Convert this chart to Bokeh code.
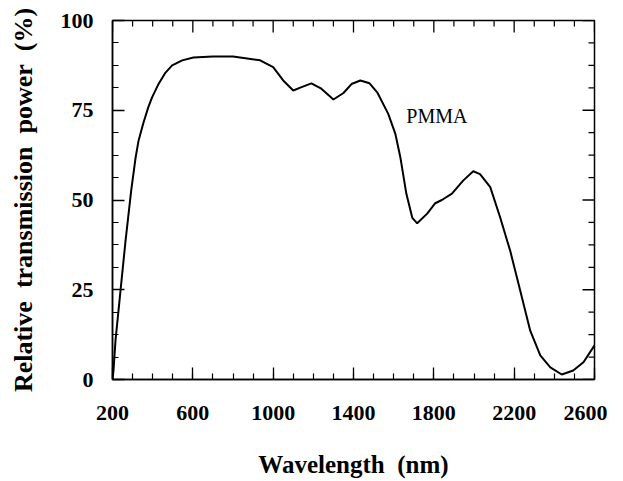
import math
from bokeh.plotting import figure
from bokeh.models import LinearAxis, FixedTicker, Range1d, Label
from bokeh.embed import file_html
from bokeh.resources import INLINE

# Data
wavelength = [200, 205, 215, 240, 265, 293, 315, 330, 353, 378, 397, 430, 464, 497,
              547, 603, 700, 800, 935, 1000, 1050, 1100, 1135, 1190, 1240, 1300,
              1350, 1390, 1434, 1480, 1518, 1573, 1608, 1633, 1663, 1693, 1717,
              1767, 1807, 1840, 1890, 1946, 1996, 2030, 2081, 2130, 2180, 2230,
              2280, 2330, 2380, 2437, 2494, 2545, 2600]
transmission = [0, 2.5, 10.9, 24.8, 38.7, 52.6, 61.8, 66.6, 71.3, 75.8, 78.6, 82.4,
                85.5, 87.5, 88.9, 89.7, 90, 90, 88.9, 87, 83.3, 80.5, 81.3, 82.5,
                81, 78, 79.8, 82.3, 83.3, 82.5, 80, 74, 68.5, 62, 51.8, 45, 43.5,
                46.2, 49.1, 50, 51.8, 55.4, 58, 57.2, 53.6, 45.2, 35.9, 24.8, 13.6,
                6.7, 3.4, 1.4, 2.5, 4.8, 9.5]

x_major = [200, 600, 1000, 1400, 1800, 2200, 2600]
x_minor = list(range(200, 2601, 100))
y_major = [0, 25, 50, 75, 100]
y_minor = [i * 6.25 for i in range(17)]

series_label = "PMMA"
label_pos = (1663, 73.5)

X_LO, X_HI = 200, 2600
Y_LO, Y_HI = 0, 100

FONT = "Liberation Serif"

p = figure(width=607, height=480, output_backend="svg", toolbar_location=None,
           x_range=Range1d(X_LO, X_HI), y_range=Range1d(Y_LO, Y_HI),
           x_axis_location=None, y_axis_location=None,
           min_border_left=112, min_border_right=13, min_border_top=20,
           min_border_bottom=101)
p.grid.visible = False
p.outline_line_color = "black"
p.outline_line_width = 1.5
p.background_fill_color = "white"
p.border_fill_color = "white"


def style(ax):
    ax.axis_line_color = "black"
    ax.axis_line_width = 1.5
    ax.major_tick_in = 12
    ax.major_tick_out = 0
    ax.minor_tick_in = 6
    ax.minor_tick_out = 0
    ax.major_tick_line_width = 1.3
    ax.minor_tick_line_width = 1.2
    ax.major_tick_line_color = "black"
    ax.minor_tick_line_color = "black"
    ax.major_label_text_font = FONT
    ax.major_label_text_font_style = "bold"
    ax.major_label_text_font_size = "22px"
    ax.major_label_text_color = "black"
    ax.axis_label_text_font = FONT
    ax.axis_label_text_font_style = "bold"
    ax.axis_label_text_color = "black"


xt = FixedTicker(ticks=x_major, minor_ticks=x_minor)
yt = FixedTicker(ticks=y_major, minor_ticks=y_minor)

xb = LinearAxis(ticker=xt)
style(xb)
xb.major_label_standoff = 26
xb.axis_label = "Wavelength\u00a0\u00a0(nm)"
xb.axis_label_text_font_size = "25px"
xb.axis_label_standoff = 28
p.add_layout(xb, "below")

yl = LinearAxis(ticker=yt)
style(yl)
yl.major_label_standoff = 19
yl.axis_label = "Relative\u00a0\u00a0transmission\u00a0\u00a0power\u00a0\u00a0(%)"
yl.axis_label_text_font_size = "26px"
yl.axis_label_standoff = 20
p.add_layout(yl, "left")

# Mirrored inward ticks on top and right edges (no labels)
minor_x_only = [v for v in x_minor if v not in x_major]
minor_y_only = [v for v in y_minor if v not in y_major]
p.ray(x=x_major, y=[Y_HI] * len(x_major), length=12, length_units="screen",
      angle=-math.pi / 2, line_color="black", line_width=1.3)
p.ray(x=minor_x_only, y=[Y_HI] * len(minor_x_only), length=6, length_units="screen",
      angle=-math.pi / 2, line_color="black", line_width=1.2)
p.ray(x=[X_HI] * len(y_major), y=y_major, length=12, length_units="screen",
      angle=math.pi, line_color="black", line_width=1.3)
p.ray(x=[X_HI] * len(minor_y_only), y=minor_y_only, length=6, length_units="screen",
      angle=math.pi, line_color="black", line_width=1.2)

p.line(wavelength, transmission, line_color="black", line_width=2)

p.add_layout(Label(x=label_pos[0], y=label_pos[1], text=series_label,
                   text_font=FONT, text_font_size="20px", text_color="black",
                   text_baseline="alphabetic", text_align="left"))

open("out.html", "w").write(file_html(p, INLINE))
